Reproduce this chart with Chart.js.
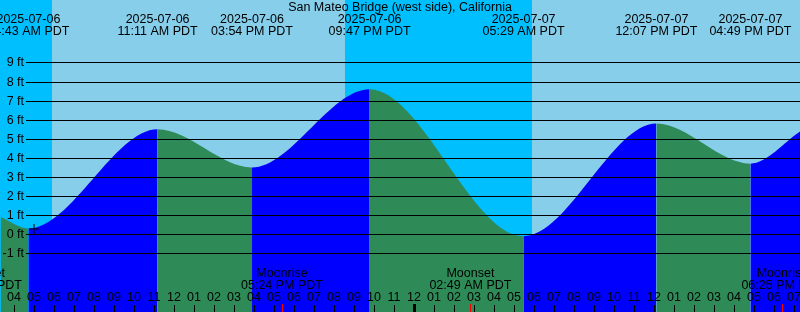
<!DOCTYPE html>
<html>
<head>
<meta charset="utf-8">
<script src="https://cdn.jsdelivr.net/npm/chart.js@4.4.1/dist/chart.umd.min.js"></script>
<style>
html, body { margin: 0; padding: 0; background: #87ceeb; }
#wrap { width: 800px; height: 312px; position: relative; }
</style>
</head>
<body>
<div id="wrap"><canvas id="tidechart"></canvas></div>
<script>
// all times are hours counted from 2025-07-06 00:00 PDT
var stationName = 'San Mateo Bridge (west side), California';

// high / low tides
var tideDates = ['2025-07-06', '2025-07-06', '2025-07-06', '2025-07-06', '2025-07-07', '2025-07-07', '2025-07-07'];
var tideTimes = ['04:43 AM PDT', '11:11 AM PDT', '03:54 PM PDT', '09:47 PM PDT', '05:29 AM PDT', '12:07 PM PDT', '04:49 PM PDT'];
var tideHours = [4.72, 11.18, 15.90, 21.78, 29.48, 36.12, 40.82];
var tideFeet = [0.3, 5.5, 3.5, 7.6, -0.1, 5.8, 3.7];

// level at the left and right edge of the graph
var edgeHours = [3.33, 43.33];
var edgeFeet = [0.9, 5.4];

// sun: night is from sunset to the next sunrise
var sunsetHours = [-3.47, 20.53];
var sunriseHours = [5.88, 29.88];

// moon
var moonNames = ['Moonset', 'Moonrise', 'Moonset', 'Moonrise'];
var moonTimes = ['02:21 AM PDT', '05:24 PM PDT', '02:49 AM PDT', '06:25 PM PDT'];
var moonHours = [2.35, 17.40, 26.82, 42.42];

// the "+" mark
var markHours = [5.0];
var markFeet = [0.28];

var feetLines = [-1, 0, 1, 2, 3, 4, 5, 6, 7, 8, 9];

var FONT = '12.5px "Liberation Sans", Arial, sans-serif';
var DAY = '#87ceeb', NIGHT = '#00bfff', RISING = '#0000ff', FALLING = '#2e8b57';

var curve = [{x: edgeHours[0], y: edgeFeet[0]}];
for (var i = 0; i < tideHours.length; i++) {
    curve.push({x: tideHours[i], y: tideFeet[i]});
}
curve.push({x: edgeHours[1], y: edgeFeet[1]});

var marks = markHours.map(function (h, i) { return {x: h, y: markFeet[i]}; });

function hourLabel(h) {
    var n = ((h % 24) + 24) % 12;
    if (n == 0) n = 12;
    return (n < 10 ? '0' : '') + n;
}

var skyPlugin = {
    id: 'sky',
    beforeDraw: function (chart) {
        var c = chart.ctx, xs = chart.scales.x;
        c.save();
        c.fillStyle = DAY;
        c.fillRect(0, 0, chart.width, chart.height);
        c.fillStyle = NIGHT;
        for (var i = 0; i < sunsetHours.length; i++) {
            var x0 = Math.round(xs.getPixelForValue(sunsetHours[i]));
            var x1 = Math.round(xs.getPixelForValue(sunriseHours[i]));
            x0 = Math.max(x0, 0);
            if (x1 > x0) c.fillRect(x0, 0, x1 - x0, chart.height);
        }
        c.restore();
    }
};

var overlayPlugin = {
    id: 'overlay',
    afterDatasetsDraw: function (chart) {
        var c = chart.ctx, xs = chart.scales.x, ys = chart.scales.y;
        var w = chart.width, h = chart.height;
        c.save();
        c.font = FONT;
        c.fillStyle = '#000';
        c.strokeStyle = '#000';
        c.lineWidth = 1;

        // height lines and labels
        c.textAlign = 'right';
        c.textBaseline = 'middle';
        feetLines.forEach(function (f) {
            var y = Math.round(ys.getPixelForValue(f)) + 0.5;
            c.beginPath();
            c.moveTo(26, y);
            c.lineTo(w, y);
            c.stroke();
            c.fillText(f + ' ft', 24, y);
        });

        // title
        c.textAlign = 'center';
        c.fillText(stationName, w / 2, 7.5);

        // tide events
        tideHours.forEach(function (t, i) {
            var x = xs.getPixelForValue(t);
            c.fillText(tideDates[i], x, 19.5);
            c.fillText(tideTimes[i], x, 31.5);
        });

        // moon events
        moonHours.forEach(function (t, i) {
            var x = xs.getPixelForValue(t);
            c.fillText(moonNames[i], x, 274);
            c.fillText(moonTimes[i], x, 286);
        });

        // hour ticks and labels
        for (var hr = Math.ceil(xs.min); hr <= Math.floor(xs.max); hr++) {
            var x = Math.round(xs.getPixelForValue(hr));
            c.fillText(hourLabel(hr), x, 297.5);
            if (hr % 24 == 0) {
                c.fillRect(x - 1, 304, 3, h - 304);
            } else {
                c.fillRect(x, 305, 1, h - 305);
            }
        }
        c.fillStyle = '#ff0000';
        moonHours.forEach(function (t) {
            var x = Math.round(xs.getPixelForValue(t));
            c.fillRect(x, 304, 1, h - 304);
        });
        c.restore();
    }
};

var ctx = document.getElementById('tidechart').getContext('2d');
var chart = new Chart(ctx, {
    type: 'line',
    data: {
        datasets: [{
            data: curve,
            order: 2,
            fill: 'start',
            borderWidth: 0,
            borderColor: 'rgba(0,0,0,0)',
            pointRadius: 0,
            cubicInterpolationMode: 'monotone',
            segment: {
                backgroundColor: function (s) {
                    return s.p1.parsed.y > s.p0.parsed.y ? RISING : FALLING;
                }
            }
        }, {
            type: 'scatter',
            data: marks,
            order: 1,
            pointStyle: 'cross',
            pointRadius: 5,
            borderColor: '#000',
            borderWidth: 1
        }]
    },
    options: {
        responsive: true,
        maintainAspectRatio: false,
        animation: false,
        layout: {padding: 0, autoPadding: false},
        scales: {
            x: {type: 'linear', min: 3.3, max: 43.3, display: false},
            y: {min: -4.07, max: 12.27, display: false}
        },
        plugins: {
            legend: {display: false},
            tooltip: {enabled: false}
        }
    },
    plugins: [skyPlugin, overlayPlugin]
});
</script>
</body>
</html>
